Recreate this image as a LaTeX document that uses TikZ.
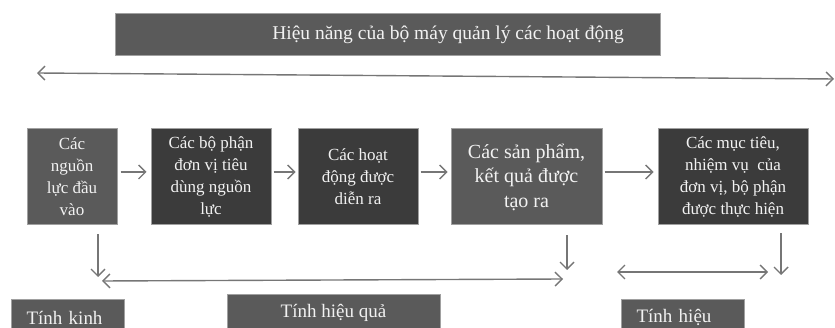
\documentclass[tikz,border=0pt]{standalone}
\usepackage{fontspec}
\setmainfont{Liberation Serif}
\usetikzlibrary{arrows.meta,calc}
\definecolor{boxmid}{HTML}{5A5A5A}
\definecolor{boxdark}{HTML}{3B3B3B}
\definecolor{edgegray}{HTML}{A0A0A0}
\definecolor{linegray}{HTML}{767676}
\definecolor{txt}{HTML}{F2F2F2}
\begin{document}
\begin{tikzpicture}[x=1pt,y=-1pt,
  box/.style={draw=edgegray,line width=1pt,text=txt,align=center,inner sep=2pt,font=\fontsize{17}{22}\selectfont},
  midbox/.style={box,fill=boxmid},
  darkbox/.style={box,fill=boxdark},
  lowbox/.style={midbox,anchor=north west,minimum height=36,align=left,inner xsep=15,font=\fontsize{19}{22}\selectfont},
  tip/.style={},
  arr/.style={draw=linegray,line width=1.4pt,-{Straight Barb[length=7pt,width=14pt]}},
  darr/.style={draw=linegray,line width=1.4pt,{Straight Barb[length=7pt,width=14pt]}-{Straight Barb[length=7pt,width=14pt]}}]
\useasboundingbox (0,0) rectangle (835,328);
\clip (0,0) rectangle (835,328);
% top box
\node[midbox,minimum width=545,minimum height=42] (top) at (387.5,35) {};
\node[text=txt,font=\fontsize{19.5}{22}\selectfont] (toptext) at (448,35) {Hiệu năng của bộ máy quản lý các hoạt động};
\coordinate (la) at (37,73);
\coordinate (ra) at (834,79);
\draw[darr] (la) -- (ra);
% row of boxes
\node[midbox,minimum width=90,minimum height=96] (b1) at (72,177) {Các\\nguồn\\lực đầu\\vào};
\node[darkbox,minimum width=120,minimum height=96] (b2) at (211,177) {Các bộ phận\\đơn vị tiêu\\dùng nguồn\\lực};
\node[darkbox,minimum width=120,minimum height=96] (b3) at (358,177) {Các hoạt\\động được\\diễn ra};
\node[midbox,minimum width=151,minimum height=96,font=\fontsize{20}{24.5}\selectfont] (b4) at (526.5,177) {Các sản phẩm,\\kết quả được\\tạo ra};
\node[darkbox,minimum width=150,minimum height=96] (b5) at (733,177) {Các mục tiêu,\\nhiệm vụ\ \ của\\đơn vị, bộ phận\\được thực hiện};
\draw[arr] ([shift={(3,-5)}]b1.east) -- ([shift={(-4,-5)}]b2.west);
\draw[arr] ([shift={(2,-5)}]b2.east) -- ([shift={(-2,-5)}]b3.west);
\draw[arr] ([shift={(2,-5)}]b3.east) -- ([shift={(-3,-5)}]b4.west);
\draw[arr] ([shift={(2,-5)}]b4.east) -- ([shift={(-4,-5)}]b5.west);
% down arrows
\coordinate (k1) at (98,277);
\coordinate (k2) at (567,270);
\coordinate (k3) at (781,275);
\draw[arr] ($(b1.south -| k1)+(0,9)$) -- (k1);
\draw[arr] ($(b4.south -| k2)+(0,10)$) -- (k2);
\draw[arr] ($(b5.south -| k3)+(0,8)$) -- (k3);
% double arrows
\coordinate (m1) at (102,281);
\coordinate (m2) at (563,279);
\coordinate (m3) at (617,272);
\coordinate (m4) at (768,272);
\draw[darr] (m1) -- (m2);
\draw[darr] (m3) -- (m4);
% bottom boxes
\node[lowbox,minimum width=113,text width=83] (kinh) at (11,299) {Tính kinh};
\node[midbox,anchor=north,minimum width=213,minimum height=36,font=\fontsize{19}{22}\selectfont] (hq) at (333.5,294) {Tính hiệu quả};
\node[lowbox,minimum width=123,text width=93] (hl) at (621,299) {Tính hiệu};
\end{tikzpicture}
\end{document}
